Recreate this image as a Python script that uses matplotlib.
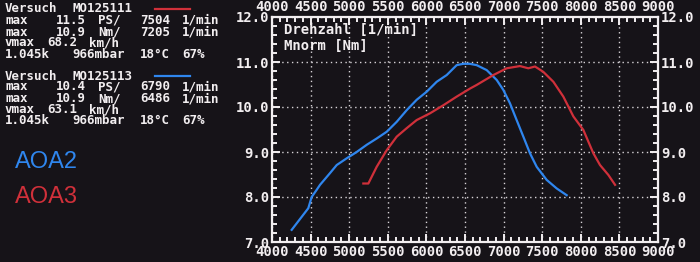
import re
import matplotlib.pyplot as plt
from matplotlib.lines import Line2D
from matplotlib.ticker import MultipleLocator

rpm_aoa2 = [4255, 4385, 4470, 4514, 4579, 4622, 4751, 4838, 4968, 5097, 5227, 5356,
            5486, 5615, 5745, 5874, 6004, 6133, 6263, 6392, 6478, 6560, 6651, 6781,
            6911, 6996, 7083, 7169, 7256, 7342, 7429, 7558, 7688, 7817]
nm_aoa2 = [7.27, 7.56, 7.75, 8.0, 8.16, 8.27, 8.53, 8.71, 8.86, 9.0, 9.16, 9.3,
           9.45, 9.67, 9.93, 10.16, 10.34, 10.56, 10.71, 10.93, 10.96, 10.96, 10.93, 10.82,
           10.6, 10.38, 10.08, 9.71, 9.34, 8.97, 8.67, 8.38, 8.19, 8.04]

rpm_aoa3 = [5183, 5248, 5356, 5486, 5615, 5745, 5874, 6047, 6220, 6392, 6565, 6651,
            6867, 7040, 7212, 7320, 7407, 7515, 7645, 7774, 7904, 8033, 8163, 8249,
            8357, 8444]
nm_aoa3 = [8.3, 8.3, 8.67, 9.04, 9.34, 9.53, 9.71, 9.86, 10.04, 10.23, 10.41, 10.49,
           10.71, 10.86, 10.91, 10.86, 10.9, 10.78, 10.56, 10.23, 9.79, 9.49, 8.97, 8.71,
           8.49, 8.27]

info_red = ["Versuch MO125111",
            "max   11.5 PS/  7504 1/min",
            "max   10.9 Nm/  7205 1/min",
            "vmax 68.2 km/h",
            "1.045k  966mbar 18°C 67%"]
info_blue = ["Versuch MO125113",
             "max   10.4 PS/  6790 1/min",
             "max   10.9 Nm/  6486 1/min",
             "vmax 63.1 km/h",
             "1.045k  966mbar 18°C 67%"]

bg = '#161318'
blue = '#2f86ee'
red = '#d0303a'
fg = '#f2eef0'
W, H = 700, 262
mono = dict(fontfamily='DejaVu Sans Mono', fontweight='bold')

fig = plt.figure(figsize=(7, 2.62), dpi=100, facecolor=bg)
ax = fig.add_axes([272 / W, 20 / H, 386 / W, 225 / H], facecolor=bg)

ax.plot(rpm_aoa2, nm_aoa2, color=blue, lw=1.6)
ax.plot(rpm_aoa3, nm_aoa3, color=red, lw=1.6)

ax.set_xlim(4000, 9000)
ax.set_ylim(7, 12)
ax.xaxis.set_major_locator(MultipleLocator(500))
ax.xaxis.set_minor_locator(MultipleLocator(100))
ax.yaxis.set_major_locator(MultipleLocator(1))
ax.yaxis.set_minor_locator(MultipleLocator(0.2))
ax.yaxis.set_major_formatter(lambda v, p: f"{v:.1f}")

ax.tick_params(which='both', direction='in', colors=fg, width=1.4,
               top=True, right=True, labeltop=True, labelright=True)
ax.tick_params(which='major', length=6, pad=2)
ax.tick_params(which='minor', length=3.5)
plt.setp(ax.get_xticklabels(), fontsize=10, **mono)
plt.setp(ax.get_yticklabels(), fontsize=10, **mono)

for s in ax.spines.values():
    s.set_color(fg)
    s.set_linewidth(1.6)

ax.grid(which='major', color='#d8d4d8', linestyle=(0, (1, 2.5)), linewidth=1)

ax.text(0.03, 0.94, "Drehzahl [1/min]", transform=ax.transAxes, color=fg,
        fontsize=10, va='center', **mono)
ax.text(0.03, 0.87, "Mnorm [Nm]", transform=ax.transAxes, color=fg,
        fontsize=10, va='center', **mono)


# left info block: words sit on the screen font's fixed character grid
def grid_line(line, y_px):
    for m in re.finditer(r'\S+', line):
        fig.text((5 + m.start() * 8.44) / W, 1 - y_px / H, m.group(), color=fg,
                 fontsize=9, va='center', **mono)


row_y = [9, 20, 32, 43, 54]
for i, line in enumerate(info_red):
    grid_line(line, row_y[i])
for i, line in enumerate(info_blue):
    grid_line(line, row_y[i] + 67)
fig.add_artist(Line2D([155 / W, 190 / W], [1 - 9 / H, 1 - 9 / H], color=red, lw=1.6))
fig.add_artist(Line2D([155 / W, 190 / W], [1 - 76 / H, 1 - 76 / H], color=blue, lw=1.6))

fig.text(15 / W, 1 - 162 / H, "AOA2", color=blue, fontsize=17,
         fontfamily='Liberation Sans', va='center')
fig.text(15 / W, 1 - 197 / H, "AOA3", color=red, fontsize=17,
         fontfamily='Liberation Sans', va='center')

fig.savefig('out.png', dpi=100, facecolor=bg)
